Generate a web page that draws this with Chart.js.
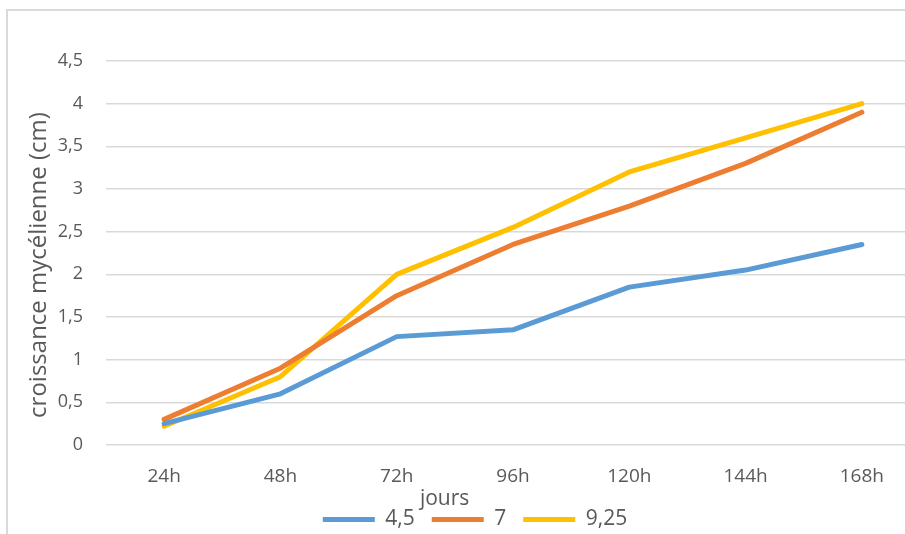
<!DOCTYPE html>
<html lang="fr">
<head>
<meta charset="utf-8">
<script src="https://cdn.jsdelivr.net/npm/chart.js@4.4.1/dist/chart.umd.min.js"></script>
<style>
  html, body { margin: 0; padding: 0; background: #fff; overflow: hidden; }
  #wrap { position: relative; width: 905px; height: 534px; overflow: hidden; }
  #frame { position: absolute; left: 6px; top: 9px; width: 1000px; height: 600px;
           border-left: 2px solid #d9d9d9; border-top: 2px solid #d9d9d9; }
  #box { position: absolute; left: 0; top: 0; width: 920px; height: 534px; }
</style>
</head>
<body>
<div id="wrap">
  <div id="frame"></div>
  <div id="box"><canvas id="chart"></canvas></div>
</div>
<script>
// ── Data ──
const categories = ['24h', '48h', '72h', '96h', '120h', '144h', '168h'];
const seriesLabels = ['4,5', '7', '9,25'];
const ph45  = [0.25, 0.6, 1.27, 1.35, 1.85, 2.05, 2.35];
const ph7   = [0.3, 0.9, 1.75, 2.35, 2.8, 3.3, 3.9];
const ph925 = [0.22, 0.8, 2.0, 2.55, 3.2, 3.6, 4.0];
const seriesColors = ['#5B9BD5', '#ED7D31', '#FFC000'];

const xTitle = 'jours';
const yTitle = 'croissance mycélienne (cm)';

const FONT = '"Open Sans", "Noto Sans", sans-serif';
const TEXT = '#595959';
const GRID = '#d9d9d9';

// axis titles drawn by hand so they sit where Excel put them
const axisTitles = {
    id: 'axisTitles',
    afterDraw(chart) {
        const { ctx, chartArea } = chart;
        ctx.save();
        ctx.fillStyle = TEXT;
        ctx.textAlign = 'center';
        ctx.textBaseline = 'middle';
        const w = chartArea.right - chartArea.left;
        ctx.font = '21px ' + FONT;
        ctx.fillText(xTitle, chartArea.left + w * 0.416, chartArea.bottom + 54);
        ctx.font = '24px ' + FONT;
        ctx.translate(39, (chartArea.top + chartArea.bottom) / 2 + 12);
        ctx.rotate(-Math.PI / 2);
        ctx.fillText(yTitle, 0, 0);
        ctx.restore();
    }
};

// Excel legend sits a little lower and right of where Chart.js puts it
const legendShift = {
    id: 'legendShift',
    afterLayout(chart) {
        const l = chart.legend;
        l.left += 11;
        l.right += 11;
        l.top += 6;
        l.bottom += 6;
    }
};

const datasets = [ph45, ph7, ph925].map((d, i) => ({
    label: seriesLabels[i],
    data: d,
    borderColor: seriesColors[i],
    backgroundColor: seriesColors[i],
    borderWidth: 5,
    borderCapStyle: 'round',
    borderJoinStyle: 'round',
    pointRadius: 0,
    pointHoverRadius: 0,
    tension: 0,
    fill: false
}));

new Chart(document.getElementById('chart'), {
    type: 'line',
    data: { labels: categories, datasets },
    options: {
        responsive: true,
        maintainAspectRatio: false,
        animation: false,
        layout: { padding: { left: 8, top: 61, right: 0, bottom: 0 } },
        scales: {
            x: {
                offset: true,
                grid: { display: false },
                border: { display: false },
                ticks: { color: TEXT, font: { family: FONT, size: 19 }, padding: 12, maxRotation: 0 },
                afterFit(scale) { scale.height = 41; }
            },
            y: {
                min: 0,
                max: 4.5,
                ticks: {
                    stepSize: 0.5,
                    color: TEXT,
                    font: { family: FONT, size: 18 },
                    padding: 23,
                    callback: v => String(v).replace('.', ',')
                },
                grid: { color: GRID, lineWidth: 1.5, drawTicks: false },
                border: { display: false },
                afterFit(scale) { scale.width = 98; }
            }
        },
        plugins: {
            legend: {
                position: 'bottom',
                labels: {
                    usePointStyle: true,
                    pointStyle: 'line',
                    pointStyleWidth: 52,
                    color: TEXT,
                    font: { family: FONT, size: 21 },
                    padding: 17
                }
            },
            tooltip: { enabled: false }
        }
    },
    plugins: [axisTitles, legendShift]
});
</script>
</body>
</html>
